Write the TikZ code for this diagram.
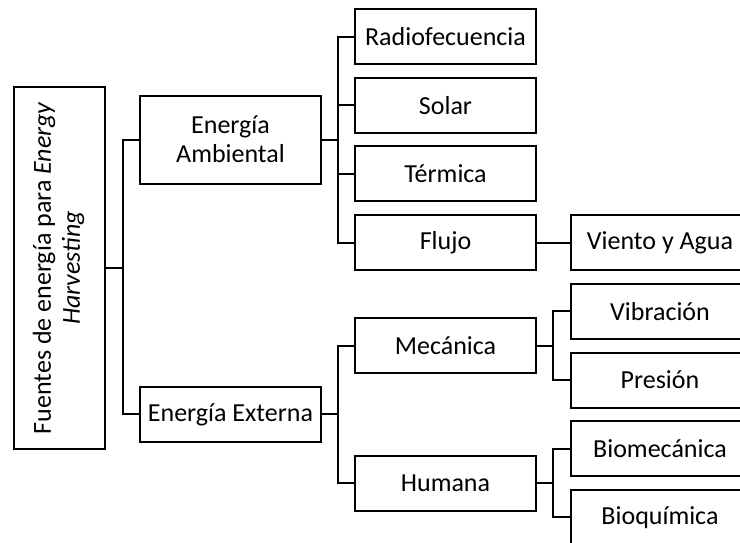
\documentclass[tikz,border=0pt]{standalone}
\usepackage{fontspec}
\setmainfont{Carlito}
\usetikzlibrary{positioning,calc}

\begin{document}
\begin{tikzpicture}[x=1pt, y=-1pt,
    box/.style={draw, rectangle, line width=2pt, outer sep=0pt, minimum width=181pt, minimum height=55pt, align=center, inner sep=2pt, font=\fontsize{26}{29}\selectfont},
    leaf/.style={box, minimum width=178pt},
    link/.style={line width=2pt},
    node distance=13.7pt and 35pt
]
\useasboundingbox (0,0) rectangle (740,542);

\node[box] (radio) at (445.5,36.5) {Radiofecuencia};
\node[box, below=of radio] (solar) {Solar};
\node[box, below=of solar] (term) {Térmica};
\node[box, below=of term] (flujo) {Flujo};
\node[leaf, right=of flujo] (viento) {Viento y Agua};
\node[leaf, below=of viento] (vib) {Vibración};
\node[leaf, below=of vib] (pres) {Presión};
\node[leaf, below=of pres] (biomec) {Biomecánica};
\node[leaf, below=of biomec] (bioq) {Bioquímica};

\node[box, left=of {$(vib.west)!0.5!(pres.west)$}] (meca) {Mecánica};
\node[box, left=of {$(biomec.west)!0.5!(bioq.west)$}] (humana) {Humana};
\node[box, minimum height=88pt, left=34pt of {$(radio.west)!0.5!(flujo.west)$}] (amb) {Energía\\Ambiental};
\node[box, left=34pt of {$(meca.west)!0.5!(humana.west)$}] (ext) {Energía Externa};
\node[box, minimum width=91pt, minimum height=362pt] (root) at (59.5,268)
    {\rotatebox{90}{\begin{tabular}{@{}c@{}}Fuentes de energía para \textit{Energy}\\\textit{Harvesting}\end{tabular}}};

\foreach \c in {amb,ext} \draw[link] (root.east) -- ++(18,0) |- (\c.west);
\foreach \c in {radio,solar,term,flujo} \draw[link] (amb.east) -- ++(17,0) |- (\c.west);
\foreach \c in {meca,humana} \draw[link] (ext.east) -- ++(17,0) |- (\c.west);
\foreach \c in {vib,pres} \draw[link] (meca.east) -- ++(17,0) |- (\c.west);
\foreach \c in {biomec,bioq} \draw[link] (humana.east) -- ++(17,0) |- (\c.west);
\draw[link] (flujo) -- (viento);

\end{tikzpicture}
\end{document}
